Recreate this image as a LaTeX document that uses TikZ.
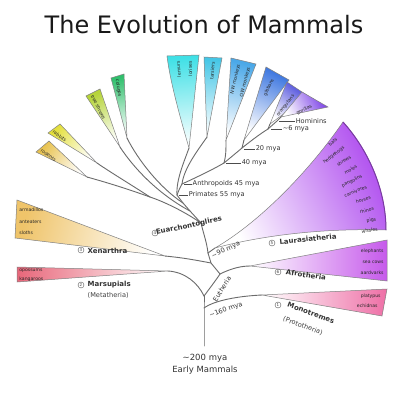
\documentclass[tikz,border=0pt]{standalone}
\usepackage{fontspec}
\setmainfont{DejaVu Sans}
\usetikzlibrary{calc}
\definecolor{cTurq}{HTML}{3FE0E6}
\definecolor{cCyan}{HTML}{45C6E6}
\definecolor{cSky}{HTML}{4AA8E8}
\definecolor{cBlue}{HTML}{3F78E0}
\definecolor{cIndigo}{HTML}{4B4BDB}
\definecolor{cViolet}{HTML}{7A3FE6}
\definecolor{cLaur}{HTML}{B04FEF}
\definecolor{cAfro}{HTML}{C65AEB}
\definecolor{cMono}{HTML}{EE6FA6}
\definecolor{cMars}{HTML}{E8677A}
\definecolor{cXen}{HTML}{EFC46A}
\definecolor{cGold}{HTML}{E8C24E}
\definecolor{cYel}{HTML}{E4E03C}
\definecolor{cYG}{HTML}{B6D43A}
\definecolor{cGreen}{HTML}{2FBF6C}
\begin{document}
\begin{tikzpicture}[x=1pt,y=-1pt,
  br/.style={draw=black!58, line width=0.9pt, line cap=round},
  wedgeline/.style={draw=black!50, line width=0.5pt},
  lbl/.style={font=\fontsize{6.6}{7}\selectfont, text=black!80, inner sep=0.5pt},
  grp/.style={font=\fontsize{7}{8}\selectfont\bfseries, text=black!80, inner sep=0.5pt},
  sub/.style={font=\fontsize{6.6}{7}\selectfont, text=black!75, inner sep=0.5pt},
  sp/.style={font=\fontsize{4.6}{5}\selectfont, text=black!85, inner sep=0.2pt},
  num/.style={circle, draw=black!65, line width=0.4pt, inner sep=0pt, minimum size=6pt, font=\fontsize{4}{4}\selectfont, text=black!75},
  dashline/.style={draw=black!70, line width=0.5pt}
]
\fill[white] (0,0) rectangle (400,400);
\useasboundingbox (0,0) rectangle (400,400);

% title
\node[font=\fontsize{24}{28}\selectfont, text=black!90, anchor=base, inner sep=0] (title) at (204,33) {The Evolution of Mammals};

% ---------- coordinates ----------
\coordinate (root) at (204,346);
\coordinate (N1) at (204,308);
\coordinate (N2) at (204,296);
\coordinate (N3) at (220,274);
\coordinate (N3b) at (211,263);
\coordinate (N4) at (208,253);
\coordinate (N6) at (201,223);
\coordinate (G) at (150,197);
\coordinate (E) at (190,211);
\coordinate (Dm) at (183,203);
\coordinate (Pn) at (177,195);
\coordinate (A) at (182,184);
\coordinate (B) at (224,163);
\coordinate (C) at (242,148);
\coordinate (D) at (268,129);
\coordinate (Hm) at (277,121);

\coordinate (monoT) at (262,295);
\coordinate (marsT) at (168,271);
\coordinate (afroT) at (250,266);
\coordinate (xenT) at (165,256);
\coordinate (lauT) at (215,248);
\coordinate (goldT) at (87,177);
\coordinate (yelT) at (97,163);
\coordinate (ygT) at (120,147);
\coordinate (grT) at (127,138);
\coordinate (c1T) at (189,148);
\coordinate (c2T) at (207,137);
\coordinate (c3T) at (226,140);
\coordinate (b4T) at (244,140);
\coordinate (b5T) at (270,124);
\coordinate (vT) at (281,117);

% ---------- wedges ----------
% Laurasiatheria fan
\shade[top color=cLaur, bottom color=white, shading angle=-64, wedgeline]
  (lauT) .. controls (260,222) and (310,170) .. (343,122)
  .. controls (370,152) and (386,192) .. (386,230)
  .. controls (320,228) and (260,236) .. (lauT);
\draw[draw=cLaur!70!black, line width=1pt] (343,122) .. controls (370,152) and (386,192) .. (386,230);
% Afrotheria
\shade[left color=white, right color=cAfro, wedgeline] (afroT) -- (387,240) -- (387,281) -- cycle;
% Monotremes
\shade[left color=white, right color=cMono, wedgeline] (monoT) -- (387,289) -- (382,316) -- cycle;
% Marsupials
\shade[left color=cMars, right color=white, wedgeline] (marsT) -- (17,267) -- (17,282) -- cycle;
% Xenarthra
\shade[top color=cXen, bottom color=white, shading angle=76, wedgeline] (xenT) -- (17,200) -- (15,238) -- cycle;
% Glires and relatives
\shade[top color=cGold, bottom color=white, shading angle=55, wedgeline] (goldT) -- (36,152) -- (49,141) -- cycle;
\shade[top color=cYel, bottom color=white, shading angle=50, wedgeline] (yelT) -- (48,133) -- (60,124) -- cycle;
\shade[top color=cYG, bottom color=white, shading angle=26, wedgeline] (ygT) -- (86,96) -- (100,89) -- cycle;
\shade[top color=cGreen, bottom color=white, shading angle=9, wedgeline] (grT) -- (111,78) -- (124,74) -- cycle;
% Primates
\shade[top color=cTurq, bottom color=white, shading angle=4, wedgeline] (c1T) .. controls (178,110) and (170,80) .. (167,56) -- (199,55) -- cycle;
\shade[top color=cCyan, bottom color=white, shading angle=-4, wedgeline] (c2T) -- (204,57) -- (222,58) -- cycle;
\shade[top color=cSky, bottom color=white, shading angle=-13, wedgeline] (c3T) -- (231,58) -- (256,64) -- cycle;
\shade[top color=cBlue, bottom color=white, shading angle=-26, wedgeline] (b4T) -- (266,67) -- (289,80) -- cycle;
\shade[top color=cIndigo, bottom color=white, shading angle=-38, wedgeline] (b5T) -- (287,82) -- (308,96) -- cycle;
\shade[top color=cViolet, bottom color=white, shading angle=-63, wedgeline] (vT) -- (302,92) -- (328,107) -- cycle;

% ---------- branches ----------
\draw[br] (root) -- (N1) -- (N2);
\draw[br] (N1) .. controls (215,300) and (240,296) .. (monoT);
\draw[br] (N2) .. controls (198,283) and (185,272) .. (marsT);
\draw[br] (N2) .. controls (210,288) and (216,280) .. (N3);
\draw[br] (N3) .. controls (232,268) and (242,266) .. (afroT);
\draw[br] (N3) -- (N3b) -- (N4);
\draw[br] (N3b) .. controls (195,260) and (185,258) .. (xenT);
\draw[br] (N4) -- (lauT);
\draw[br] (N4) .. controls (207,243) and (203,232) .. (N6);
\draw[br] (N6) .. controls (185,212) and (165,202) .. (G);
\draw[br] (G) .. controls (125,188) and (105,182) .. (goldT);
\draw[br] (G) .. controls (130,184) and (110,172) .. (yelT);
\draw[br] (N6) -- (E) -- (Dm) -- (Pn);
\draw[br] (E) .. controls (160,195) and (135,170) .. (ygT);
\draw[br] (Dm) .. controls (160,188) and (138,160) .. (grT);
\draw[br] (Pn) .. controls (176,180) and (184,162) .. (c1T);
\draw[br] (Pn) .. controls (179,190) and (180,187) .. (A);
\draw[br] (A) .. controls (184,168) and (198,150) .. (c2T);
\draw[br] (A) .. controls (195,178) and (212,170) .. (B);
\draw[br] (B) .. controls (226,156) and (226,150) .. (c3T);
\draw[br] (B) -- (C) -- (b4T);
\draw[br] (C) .. controls (252,140) and (260,134) .. (D);
\draw[br] (D) -- (b5T);
\draw[br] (D) -- (Hm) -- (vT);

% ---------- primate labels ----------
\draw[dashline] (Hm) ++(2,0) -- ++(16,0) node[lbl, anchor=west] (lHom) {Hominins};
\draw[dashline] (D) ++(3,0) -- ++(11,0) node[lbl, anchor=west] (l6) {\textasciitilde 6 mya};
\draw[dashline] (C) ++(2,1) -- ++(11,0) node[lbl, anchor=west] (l20) {20 mya};
\draw[dashline] (B) ++(2,0) -- ++(15,0) node[lbl, anchor=west] (l40) {40 mya};
\draw[dashline] (A) ++(2,0) -- ++(8,0) node[lbl, anchor=west] (lAnth) {Anthropoids 45 mya};
\draw[dashline] (Pn) ++(2,0) -- ++(9,0) node[lbl, anchor=west] (lPrim) {Primates 55 mya};

% species in primate wedges
\node[sp, rotate=94, anchor=east] at (178,61) {lemurs};
\node[sp, rotate=92, anchor=east] at (190,61) {lorises};
\node[sp, rotate=86, anchor=east] at (213,62) {tarsiers};
\node[sp, rotate=77, anchor=east] at (239,64) {NW monkeys};
\node[sp, rotate=76, anchor=east] at (249,67) {OW monkeys};
\node[sp, rotate=64, anchor=east] at (273,79) {gibbons};
\node[sp, rotate=52, anchor=east] at (294,95) {orangutans};
\node[sp, rotate=27, anchor=east] at (312,106) {gorillas};

% species in Glires etc.
\node[sp, rotate=-35, anchor=west] at (41,150) {rodents};
\node[sp, rotate=-38, anchor=west] at (53,131) {rabbits};
\node[sp, rotate=-63, anchor=west] at (92,95) {tree shrews};
\node[sp, rotate=-81, anchor=west] at (117,79) {colugos};

% Laurasiatheria species
\foreach \a/\n in {42/bats, 38/hedgehogs, 34/shrews, 30/moles, 26/pangolins, 22/carnivores, 18/horses, 14/rhinos, 10/pigs, 6.5/whales}
  \node[sp, anchor=east, rotate=\a] at ($(lauT)+(-\a:164)$) {\n};

% Afrotheria species
\node[sp, anchor=east] at (384,251) {elephants};
\node[sp, anchor=east] at (384,262) {sea cows};
\node[sp, anchor=east] at (384,273) {aardvarks};
% Monotreme species
\node[sp, anchor=east] at (381,296) {platypus};
\node[sp, anchor=east] at (378,306) {echidnas};
% Marsupial species
\node[sp, anchor=west] at (19,271) {opossums};
\node[sp, anchor=west] at (19,279) {kangaroos};
% Xenarthra species
\node[sp, anchor=west] at (19,210) {armadillos};
\node[sp, anchor=west] at (19,222) {anteaters};
\node[sp, anchor=west] at (19,233) {sloths};

% ---------- group labels ----------
\node[num] (n1) at (278,305) {1};
\node[grp, rotate=-20] (gMono) at (311,313) {Monotremes};
\node[sub, rotate=-20] (gMono2) at (303,326) {(Prototheria)};
\node[num] (n2) at (81,285) {2};
\node[grp, anchor=west] (gMars) at (87,285) {Marsupials};
\node[sub, anchor=west] (gMars2) at (87,295) {(Metatheria)};
\node[num] (n3) at (81,250) {3};
\node[grp, anchor=west] (gXen) at (87,251) {Xenarthra};
\node[num] (n4) at (155,233) {4};
\node[grp, rotate=12] (gEua) at (189,226) {Euarchontoglires};
\node[num] (n5) at (272,243) {5};
\node[grp, rotate=6] (gLau) at (308,239) {Laurasiatheria};
\node[num] (n6) at (278,272) {6};
\node[grp, rotate=-8] (gAfr) at (306,275) {Afrotheria};

% ---------- dates on trunk ----------
\node[lbl, rotate=25] (l90) at (226,250) {\textasciitilde 90 mya};
\node[lbl, rotate=58] (lEut) at (222,289) {Eutheria};
\node[lbl, rotate=20] (l160) at (226,310) {\textasciitilde 160 mya};

% root
\node[font=\fontsize{8.5}{10}\selectfont, text=black!80] (l200) at (205,358) {\textasciitilde 200 mya};
\node[font=\fontsize{8.5}{10}\selectfont, text=black!80] (lEarly) at (205,370) {Early Mammals};
\end{tikzpicture}
\end{document}
